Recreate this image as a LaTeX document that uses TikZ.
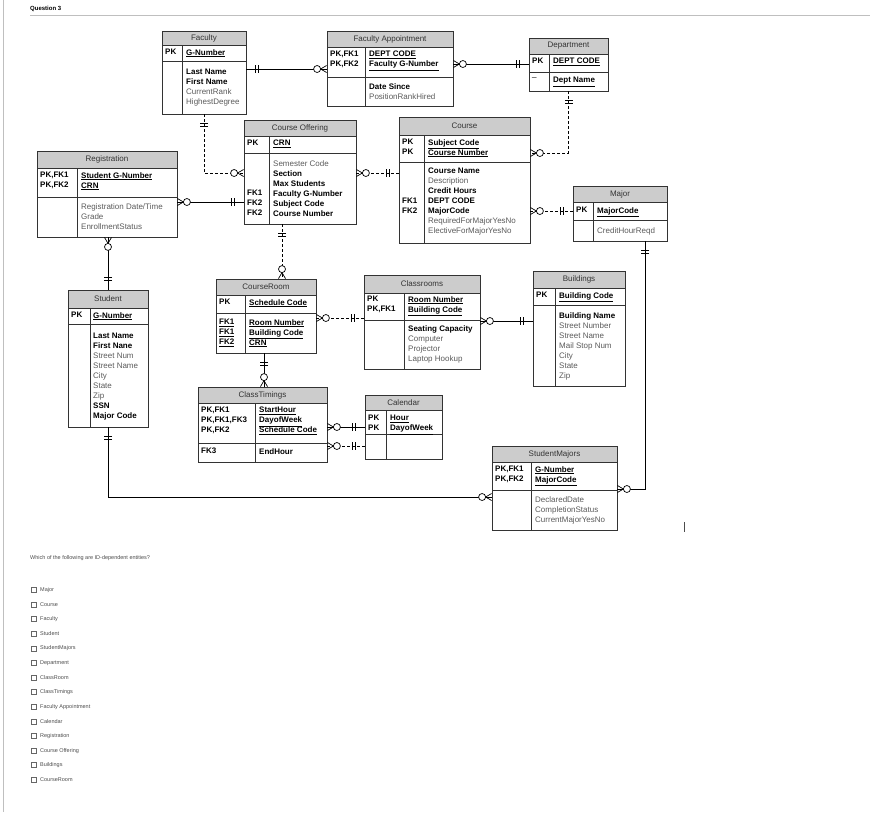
\documentclass[tikz,border=0pt]{standalone}
\usepackage{fontspec}
\setmainfont{Liberation Sans}
\usetikzlibrary{fit,calc,decorations.markings}

\definecolor{titlegray}{RGB}{204,204,204}
\definecolor{attrgray}{RGB}{90,90,90}
\newcommand{\pk}[1]{\textbf{\underline{#1}}}
\newcommand{\bo}[1]{\textbf{#1}}
\newcommand{\gr}[1]{\textcolor{attrgray}{#1}}

\tikzset{
  entline/.style={draw=black!80,line width=0.8pt},
  ttl/.style={font=\fontsize{8}{10}\selectfont,text=black!80,inner sep=0pt},
  txt/.style={font=\fontsize{8}{10}\selectfont,align=left,anchor=north west,inner sep=0pt},
  rel/.style={draw=black,line width=0.7pt},
  dashed rel/.style={dash pattern=on 3pt off 2pt},
  one at start/.style={postaction={decorate,decoration={markings,
    mark=at position 0 with {\draw[solid,line width=0.7pt] (9,-4)--(9,4) (12,-4)--(12,4);}}}},
  one at end/.style={postaction={decorate,decoration={markings,
    mark=at position 1 with {\draw[solid,line width=0.7pt] (-9,-4)--(-9,4) (-12,-4)--(-12,4);}}}},
  many at start/.style={postaction={decorate,decoration={markings,
    mark=at position 0 with {\draw[solid,line width=0.7pt] (0,-3.5)--(6,0)--(0,3.5);
      \draw[solid,line width=0.7pt,fill=white] (9.5,0) circle (3.5);}}}},
  many at end/.style={postaction={decorate,decoration={markings,
    mark=at position 1 with {\draw[solid,line width=0.7pt] (0,-3.5)--(-6,0)--(0,3.5);
      \draw[solid,line width=0.7pt,fill=white] (-9.5,0) circle (3.5);}}}},
}

% name, x1, y1, x2, title bottom, key bottom, y2, divider, title
\newcommand{\entity}[9]{%
  \fill[titlegray] (#2,#3) rectangle (#4,#5);
  \draw[entline] (#2,#5) -- (#4,#5) (#2,#6) -- (#4,#6) (#8,#5) -- (#8,#7);
  \node[fit={(#2,#3)(#4,#7)},entline,inner sep=0pt] (#1) {};
  \node[ttl] (#1-t) at ($(#2,#3)!0.5!(#4,#5)$) {#9};
}

\begin{document}
\begin{tikzpicture}[x=1pt,y=-1pt]
\useasboundingbox (0,0) rectangle (870,812);
\draw[black!25] (3,0) -- (3,812);
\draw[black!25,line width=1pt] (30,15) -- (870,15);
\node[anchor=west,inner sep=0pt,font=\fontsize{6}{7}\selectfont\bfseries] (q) at (30,9) {Question 3};

% Faculty
\entity{fac}{162}{31}{246}{45}{61}{114}{182}{Faculty}
\node[txt] at (165,49) {\bo{PK}};
\node[txt] at (186,49) {\pk{G-Number}};
\node[txt] at (186,69) {\bo{Last Name}\\\bo{First Name}\\\gr{CurrentRank}\\\gr{HighestDegree}};

% Faculty Appointment
\entity{appt}{327}{31}{453}{47}{77}{106}{365}{Faculty Appointment}
\node[txt] at (330,51) {\bo{PK,FK1}\\\bo{PK,FK2}};
\node[txt] at (369,51) {\pk{DEPT CODE}\\\pk{Faculty G-Number}};
\node[txt] at (369,83) {\bo{Date Since}\\\gr{PositionRankHired}};

% Department
\entity{dept}{529}{38}{608}{54}{72}{91}{549}{Department}
\node[txt] at (532,58) {\bo{PK}};
\node[txt] at (553,58) {\pk{DEPT CODE}};
\node[txt] at (532,76) {\_};
\node[txt] at (553,77) {\pk{Dept Name}};

% Course Offering
\entity{co}{244}{120}{356}{136}{153}{224}{269}{Course Offering}
\node[txt] at (247,140) {\bo{PK}};
\node[txt] at (273,140) {\pk{CRN}};
\node[txt] at (273,160) {\gr{Semester Code}\\\bo{Section}\\\bo{Max Students}\\\bo{Faculty G-Number}\\\bo{Subject Code}\\\bo{Course Number}};
\node[txt] at (247,190) {\bo{FK1}\\\bo{FK2}\\\bo{FK2}};

% Course
\entity{course}{399}{117}{530}{135}{162}{243}{424}{Course}
\node[txt] at (402,139) {\bo{PK}\\\bo{PK}};
\node[txt] at (428,139) {\pk{Subject Code}\\\pk{Course Number}};
\node[txt] at (428,168) {\bo{Course Name}\\\gr{Description}\\\bo{Credit Hours}\\\bo{DEPT CODE}\\\bo{MajorCode}\\\gr{RequiredForMajorYesNo}\\\gr{ElectiveForMajorYesNo}};
\node[txt] at (402,198) {\bo{FK1}\\\bo{FK2}};

% Registration
\entity{reg}{37}{151}{177}{168}{197}{237}{77}{Registration}
\node[txt] at (40,172) {\bo{PK,FK1}\\\bo{PK,FK2}};
\node[txt] at (81,172) {\pk{Student G-Number}\\\pk{CRN}};
\node[txt] at (81,203) {\gr{Registration Date/Time}\\\gr{Grade}\\\gr{EnrollmentStatus}};

% Major
\entity{major}{573}{186}{667}{202}{220}{241}{593}{Major}
\node[txt] at (576,207) {\bo{PK}};
\node[txt] at (597,207) {\pk{MajorCode}};
\node[txt] at (597,227) {\gr{CreditHourReqd}};

% Student
\entity{stu}{68}{290}{148}{308}{324}{427}{90}{Student}
\node[txt] at (71,312) {\bo{PK}};
\node[txt] at (93,312) {\pk{G-Number}};
\node[txt] at (93,333) {\bo{Last Name}\\\bo{First Nane}\\\gr{Street Num}\\\gr{Street Name}\\\gr{City}\\\gr{State}\\\gr{Zip}\\\bo{SSN}\\\bo{Major Code}};

% CourseRoom
\entity{cr}{216}{279}{316}{295}{313}{353}{245}{CourseRoom}
\node[txt] at (219,299) {\bo{PK}};
\node[txt] at (249,299) {\pk{Schedule Code}};
\node[txt] at (219,319) {\pk{FK1}\\\pk{FK1}\\\pk{FK2}};
\node[txt] at (249,319) {\pk{Room Number}\\\pk{Building Code}\\\pk{CRN}};

% Classrooms
\entity{room}{364}{275}{480}{293}{320}{369}{404}{Classrooms}
\node[txt] at (367,296) {\bo{PK}\\\bo{PK,FK1}};
\node[txt] at (408,296) {\pk{Room Number}\\\pk{Building Code}};
\node[txt] at (408,325) {\bo{Seating Capacity}\\\gr{Computer}\\\gr{Projector}\\\gr{Laptop Hookup}};

% Buildings
\entity{bld}{533}{271}{625}{288}{305}{386}{555}{Buildings}
\node[txt] at (536,292) {\bo{PK}};
\node[txt] at (559,292) {\pk{Building Code}};
\node[txt] at (559,312) {\bo{Building Name}\\\gr{Street Number}\\\gr{Street Name}\\\gr{Mail Stop Num}\\\gr{City}\\\gr{State}\\\gr{Zip}};

% ClassTimings
\entity{ct}{198}{387}{327}{403}{443}{462}{255}{ClassTimings}
\node[txt] at (201,407) {\bo{PK,FK1}\\\bo{PK,FK1,FK3}\\\bo{PK,FK2}};
\node[txt] at (259,407) {\pk{StartHour}\\\pk{DayofWeek}\\\pk{Schedule Code}};
\node[txt] at (201,448) {\bo{FK3}};
\node[txt] at (259,448) {\bo{EndHour}};

% Calendar
\entity{cal}{365}{395}{442}{410}{434}{459}{386}{Calendar}
\node[txt] at (368,415) {\bo{PK}\\\bo{PK}};
\node[txt] at (390,415) {\pk{Hour}\\\pk{DayofWeek}};

% StudentMajors
\entity{sm}{492}{446}{617}{462}{490}{530}{531}{StudentMajors}
\node[txt] at (495,466) {\bo{PK,FK1}\\\bo{PK,FK2}};
\node[txt] at (535,466) {\pk{G-Number}\\\pk{MajorCode}};
\node[txt] at (535,496) {\gr{DeclaredDate}\\\gr{CompletionStatus}\\\gr{CurrentMajorYesNo}};

% relationships
\draw[rel,one at start,many at end] (fac.east |- 0,69) -- (appt.west |- 0,69);
\draw[rel,many at start,one at end] (appt.east |- 0,64) -- (dept.west |- 0,64);
\draw[rel,dashed rel,one at start,many at end] (fac.south) |- (co.west |- 0,173);
\draw[rel,dashed rel,one at start,many at end] (dept.south) |- (course.east |- 0,153);
\draw[rel,dashed rel,many at start,one at end] (co.east |- 0,173) -- (course.west |- 0,173);
\draw[rel,many at start,one at end] (reg.east |- 0,202) -- (co.west |- 0,202);
\draw[rel,dashed rel,many at start,one at end] (course.east |- 0,211) -- (major.west |- 0,211);
\draw[rel,many at start,one at end] (reg.south -| stu.north) -- (stu.north);
\draw[rel,dashed rel,one at start,many at end] (co.south -| 282,0) -- (cr.north -| 282,0);
\draw[rel,dashed rel,many at start,one at end] (cr.east |- 0,318) -- (room.west |- 0,318);
\draw[rel,many at start,one at end] (room.east |- 0,321) -- (bld.west |- 0,321);
\draw[rel,one at start,many at end] (cr.south -| 264,0) -- (ct.north -| 264,0);
\draw[rel,many at start,one at end] (ct.east |- 0,427) -- (cal.west |- 0,427);
\draw[rel,dashed rel,many at start,one at end] (ct.east |- 0,446) -- (cal.west |- 0,446);
\draw[rel,one at start,many at end] (stu.south) |- (sm.west |- 0,497);
\draw[rel,one at start,many at end] (major.south -| 645,0) |- (sm.east |- 0,489);
\draw[black!70] (684,522) -- (684,532);

% question
\node[anchor=west,inner sep=0pt,font=\fontsize{5.5}{7}\selectfont,text=black!70] (ask) at (30,558) {Which of the following are ID-dependent entities?};
\foreach \lbl [count=\i from 0] in {Major,Course,Faculty,Student,StudentMajors,Department,ClassRoom,ClassTimings,Faculty Appointment,Calendar,Registration,Course Offering,Buildings,CourseRoom}{
  \draw[black!60,line width=0.5pt] (31,{587.5+14.6*\i}) rectangle (36,{592.5+14.6*\i});
  \node[anchor=west,inner sep=0pt,font=\fontsize{5.5}{7}\selectfont,text=black!70] (opt\i) at (40,{590+14.6*\i}) {\lbl};
}
\end{tikzpicture}
\end{document}
